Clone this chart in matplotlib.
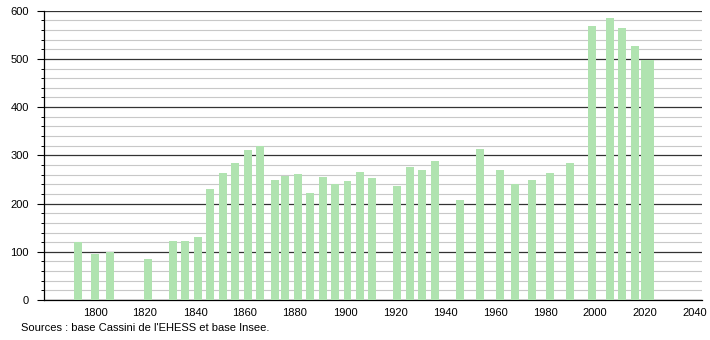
import matplotlib.pyplot as plt
from matplotlib.ticker import MultipleLocator

plt.rcParams['font.family'] = ['Liberation Sans', 'DejaVu Sans']

years = [1793, 1800, 1806, 1821, 1831, 1836, 1841, 1846, 1851, 1856,
         1861, 1866, 1872, 1876, 1881, 1886, 1891, 1896, 1901, 1906,
         1911, 1921, 1926, 1931, 1936, 1946, 1954, 1962, 1968, 1975,
         1982, 1990, 1999, 2006, 2011, 2016, 2020, 2022]
population = [120, 95, 100, 85, 122, 122, 131, 230, 263, 284,
              311, 319, 249, 258, 261, 222, 255, 241, 247, 266,
              253, 237, 276, 270, 288, 207, 313, 270, 241, 249,
              263, 284, 569, 585, 564, 527, 498, 498]
year_ticks = list(range(1800, 2041, 20))

source = "Sources : base Cassini de l'EHESS et base Insee."

fig = plt.figure(figsize=(7.1, 3.4), dpi=100)
ax = fig.add_axes([0.062, 0.1176, 0.9267, 0.851])

ax.bar(years, population, width=3.2, color='#b0e3b0', zorder=3)

ax.set_xlim(1779.6, 2042.8)
ax.set_ylim(0, 600)
ax.set_xticks(year_ticks)
ax.yaxis.set_major_locator(MultipleLocator(100))
ax.yaxis.set_minor_locator(MultipleLocator(20))

ax.grid(axis='y', which='major', color='#333333', linewidth=0.9, zorder=1)
ax.grid(axis='y', which='minor', color='#c8c8c8', linewidth=0.8, zorder=1)

for side in ('top', 'right'):
    ax.spines[side].set_visible(False)
ax.spines['left'].set_linewidth(0.9)
ax.spines['bottom'].set_linewidth(0.9)

ax.tick_params(axis='y', which='major', length=5, width=0.8, labelsize=8, pad=6)
ax.tick_params(axis='y', which='minor', length=2.5, width=0.7)
ax.tick_params(axis='x', length=0, labelsize=8, pad=6)

fig.text(0.029, 0.035, source, fontsize=8, va='center', ha='left')

fig.savefig('out.png', dpi=100)
